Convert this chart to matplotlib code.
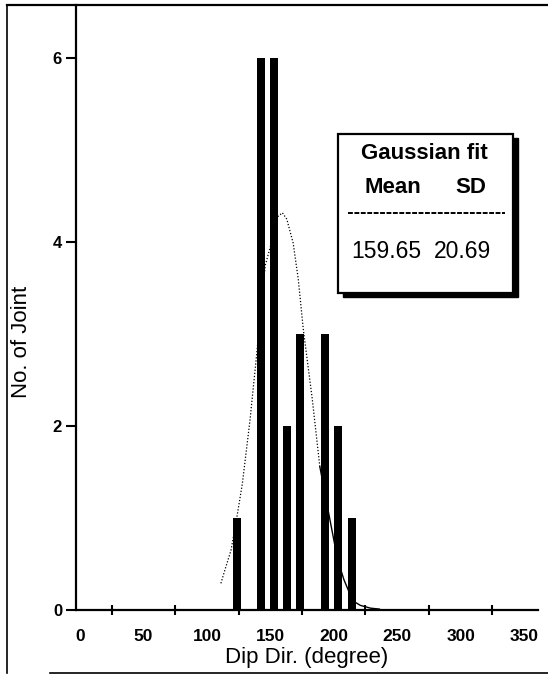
import matplotlib
matplotlib.use('Agg')
import matplotlib.pyplot as plt
from matplotlib.patches import Rectangle
from matplotlib.lines import Line2D

# --- datos ---
dip_dir = [123.5, 143, 153, 163, 173.5, 193, 203.5, 214]
n_joint = [1, 6, 6, 2, 3, 3, 2, 1]

# curva de ajuste (puntos leidos)
fit_x = [111, 114.5, 119, 123.5, 128, 134, 139, 146, 152, 156, 159.5, 163,
         168, 172, 176, 183, 189]
fit_y = [0.29, 0.45, 0.65, 1.0, 1.38, 2.07, 2.75, 3.75, 4.05, 4.28, 4.32, 4.25,
         3.99, 3.6, 3.05, 2.3, 1.56]
fit_x2 = [189, 197, 203, 208, 215, 221, 229, 236]
fit_y2 = [1.56, 0.98, 0.55, 0.33, 0.1, 0.05, 0.02, 0.01]

x_labels = [0, 50, 100, 150, 200, 250, 300, 350]
x_marks = [25, 75, 125, 175, 225, 275, 325]
y_ticks = [0, 2, 4, 6]

plt.rcParams['font.family'] = ['Liberation Sans', 'DejaVu Sans']

fig = plt.figure(figsize=(5.48, 6.77), dpi=100)
ax = fig.add_axes([76/548, 1 - 610/677, (538-76)/548, (610-5)/677])

ax.bar(dip_dir, n_joint, width=6.3, color='black')
ax.plot(fit_x, fit_y, color='black', linestyle=(0, (1, 1.5)), linewidth=0.9)
ax.plot(fit_x2, fit_y2, color='black', linewidth=1.0)

ax.set_xlim(-3.2, 361)
ax.set_ylim(0, 6.58)

for s in ['top', 'right']:
    ax.spines[s].set_visible(False)
for s in ['left', 'bottom']:
    ax.spines[s].set_linewidth(1.6)

ax.set_xticks(x_labels)
ax.set_xticklabels([str(v) for v in x_labels], fontsize=12.5, fontweight='bold')
ax.set_xticks(x_marks, minor=True)
ax.tick_params(axis='x', which='major', length=0, pad=14)
ax.tick_params(axis='x', which='minor', direction='inout', length=7, width=1.5)
ax.set_yticks(y_ticks)
ax.set_yticklabels([str(v) for v in y_ticks], fontsize=12, fontweight='bold')
ax.tick_params(axis='y', which='major', direction='out', length=7, width=1.5, pad=3)

ax.set_xlabel('Dip Dir. (degree)', fontsize=16, labelpad=2)
ax.set_ylabel('No. of Joint', fontsize=16)
ax.yaxis.set_label_coords(-0.095, 0.443)

# cuadro del ajuste gaussiano con sombra
ax.add_patch(Rectangle((207.5, 3.40), 138, 1.73, facecolor='black', edgecolor='black', zorder=4))
ax.add_patch(Rectangle((203.5, 3.45), 138, 1.73, facecolor='white', edgecolor='black',
                       linewidth=1.6, zorder=5))
ax.text(271.3, 4.97, 'Gaussian fit', fontsize=16, fontweight='bold', ha='center', va='center', zorder=6)
ax.text(246.8, 4.59, 'Mean', fontsize=16, fontweight='bold', ha='center', va='center', zorder=6)
ax.text(308.4, 4.59, 'SD', fontsize=16, fontweight='bold', ha='center', va='center', zorder=6)
ax.plot([211.4, 335.2], [4.32, 4.32], color='black', linestyle=(0, (2.5, 0.8)), linewidth=1.4, zorder=6)
ax.text(241.8, 3.90, '159.65', fontsize=16.5, ha='center', va='center', zorder=6)
ax.text(301.6, 3.90, '20.69', fontsize=16.5, ha='center', va='center', zorder=6)

# marco de la figura
fig.add_artist(Line2D([7/548, 7/548], [1 - 673/677, 1 - 5/677], color='black', linewidth=1.2))
fig.add_artist(Line2D([7/548, 1], [1 - 5/677, 1 - 5/677], color='black', linewidth=1.6))
fig.add_artist(Line2D([50/548, 1], [1 - 673/677, 1 - 673/677], color='black', linewidth=1.2))

fig.savefig('out.png', dpi=100)
